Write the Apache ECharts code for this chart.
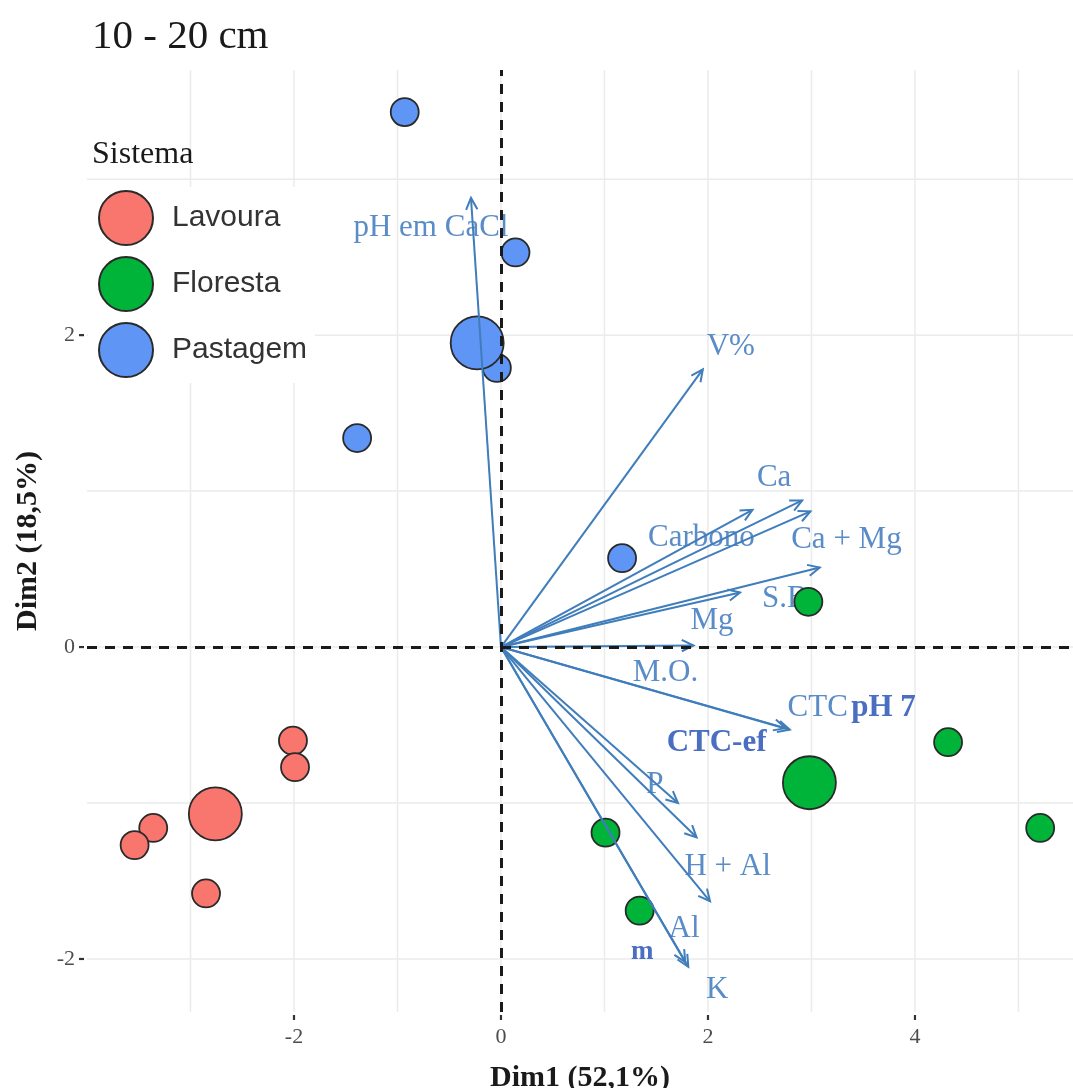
<!DOCTYPE html>
<html><head><meta charset="utf-8">
<script src="https://cdn.jsdelivr.net/npm/echarts@6/dist/echarts.min.js"></script>
<style>html,body{margin:0;padding:0;background:#fff}#c{width:1073px;height:1088px}</style>
</head><body><div id="c"></div>
<script>
// ---------- data ----------
const chartTitle = '10 - 20 cm';
const legendTitle = 'Sistema';
const xName = 'Dim1 (52,1%)';
const yName = 'Dim2 (18,5%)';
const groups = ['Lavoura', 'Floresta', 'Pastagem'];

const lavouraInd = [[-2.01, -0.60], [-1.99, -0.77], [-3.36, -1.16], [-3.54, -1.27], [-2.85, -1.58]];
const lavouraMean = [[-2.76, -1.07]];
const florestaInd = [[2.97, 0.29], [4.32, -0.61], [5.21, -1.16], [1.01, -1.19], [1.34, -1.69]];
const florestaMean = [[2.98, -0.87]];
const pastagemInd = [[-0.93, 3.43], [0.14, 2.53], [-0.04, 1.79], [-1.39, 1.34], [1.17, 0.57]];
const pastagemMean = [[-0.23, 1.95]];

const varNames = ['pH em CaCl', 'V%', 'Carbono', 'Ca', 'Ca + Mg', 'S.B.', 'Mg', 'M.O.', 'CTC pH 7', 'CTC-ef', 'P', 'H + Al', 'Al', 'K', 'm'];
const varX = [-0.29, 1.95, 2.43, 2.91, 2.99, 3.08, 2.31, 1.86, 2.79, 2.75, 1.71, 1.89, 2.02, 1.81, 1.78];
const varY = [2.88, 1.78, 0.88, 0.94, 0.87, 0.51, 0.35, 0.01, -0.53, -0.52, -1.00, -1.22, -1.63, -2.05, -2.02];

const xTickLabels = [-2, 0, 2, 4];
const yTickLabels = [-2, 0, 2];
const xGridValues = [-3, -2, -1, 0, 1, 2, 3, 4, 5];
const yGridValues = [-2, -1, 0, 1, 2, 3];

// ---------- layout / style (not data) ----------
const labelLayout = {
  'pH em CaCl': [-40, 30], 'V%': [28, -23], 'Carbono': [-51, 28], 'Ca': [-28, -23],
  'Ca + Mg': [36, 28], 'S.B.': [-31, 31], 'Mg': [-28, 28], 'M.O.': [-28, 27],
  'CTC pH 7': [62, -22], 'CTC-ef': [-69, 15], 'P': [-23, -18], 'H + Al': [31, 30],
  'Al': [-26, 28], 'K': [29, 23], 'm': [-43, -10]
};
const boldLabels = { 'CTC-ef': true, 'm': true };
const colors = { Lavoura: '#F8766D', Floresta: '#00B43A', Pastagem: '#5F96F6' };
const ARROW = '#3f7dbb';
const LABEL = '#5a8cc8';
const LABEL_BOLD = '#4a6ec2';
const GRID = '#ebebeb';
const SERIF = '"Liberation Serif", "DejaVu Serif", serif';
const SANS = '"Liberation Sans", Arial, sans-serif';

const chart = echarts.init(document.getElementById('c'), null, { renderer: 'canvas' });

function pointSeries(name, ind, mean) {
  const border = { borderColor: '#2a2a2a', borderWidth: 1.8 };
  return [
    { type: 'scatter', name, z: 3, data: ind, symbolSize: 28,
      itemStyle: Object.assign({ color: colors[name], opacity: 1 }, border) },
    { type: 'scatter', name, z: 3, data: mean, symbolSize: 53,
      itemStyle: Object.assign({ color: colors[name], opacity: 1 }, border) }
  ];
}

// vertical gridlines (value in dim 0) + tick mark below axis when labelled
function xGridItem(params, api) {
  const cs = params.coordSys;
  const v = api.value(0);
  const p = api.coord([v, 0]);
  const children = [{ type: 'line', shape: { x1: p[0], y1: cs.y, x2: p[0], y2: cs.y + cs.height },
    style: { stroke: GRID, lineWidth: 1.5 } }];
  if (xTickLabels.indexOf(v) >= 0) {
    children.push({ type: 'line', shape: { x1: p[0], y1: cs.y + cs.height + 3, x2: p[0], y2: cs.y + cs.height + 8 },
      style: { stroke: '#333', lineWidth: 2.2 } });
  }
  return { type: 'group', children };
}
function yGridItem(params, api) {
  const cs = params.coordSys;
  const v = api.value(1);
  const p = api.coord([0, v]);
  const children = [{ type: 'line', shape: { x1: cs.x, y1: p[1], x2: cs.x + cs.width, y2: p[1] },
    style: { stroke: GRID, lineWidth: 1.5 } }];
  if (yTickLabels.indexOf(v) >= 0) {
    children.push({ type: 'line', shape: { x1: cs.x - 8, y1: p[1], x2: cs.x - 3, y2: p[1] },
      style: { stroke: '#333', lineWidth: 2.2 } });
  }
  return { type: 'group', children };
}

function arrowItem(params, api) {
  const o = api.coord([0, 0]);
  const t = api.coord([api.value(0), api.value(1)]);
  const ang = Math.atan2(t[1] - o[1], t[0] - o[0]);
  const L = 13, A = 0.45;
  const p1 = [t[0] - L * Math.cos(ang - A), t[1] - L * Math.sin(ang - A)];
  const p2 = [t[0] - L * Math.cos(ang + A), t[1] - L * Math.sin(ang + A)];
  return { type: 'group', children: [
    { type: 'line', shape: { x1: o[0], y1: o[1], x2: t[0], y2: t[1] }, style: { stroke: ARROW, lineWidth: 2 } },
    { type: 'polyline', shape: { points: [p1, t, p2] }, style: { stroke: ARROW, fill: null, lineWidth: 2 } }
  ] };
}

function labelItem(params, api) {
  const name = varNames[params.dataIndex];
  const t = api.coord([api.value(0), api.value(1)]);
  const off = labelLayout[name] || [0, 0];
  let style;
  if (name === 'CTC pH 7') {
    style = { text: '{a|CTC} {b|pH 7}', align: 'center', verticalAlign: 'middle',
      rich: { a: { fontFamily: SERIF, fontSize: 31, fill: LABEL, color: LABEL },
              b: { fontFamily: SERIF, fontSize: 31, fontWeight: 'bold', fill: LABEL_BOLD, color: LABEL_BOLD } } };
  } else {
    const bold = !!boldLabels[name];
    style = { text: name, align: 'center', verticalAlign: 'middle',
      font: (bold ? 'bold ' : '') + (name === 'm' ? 27 : 31) + 'px ' + SERIF,
      fill: bold ? LABEL_BOLD : LABEL };
  }
  return { type: 'text', x: t[0] + off[0], y: t[1] + off[1], style };
}

const arrowData = varX.map((x, i) => [x, varY[i]]);

const option = {
  animation: false,
  backgroundColor: '#fff',
  grid: { left: 87, right: 0, top: 70, bottom: 76, containLabel: false, outerBoundsMode: 'none' },
  xAxis: {
    type: 'value', min: -4, max: 5.527,
    axisLine: { show: false },
    splitLine: { show: false },
    axisTick: { show: false },
    axisLabel: { customValues: xTickLabels, color: '#4d4d4d', fontFamily: SERIF, fontSize: 22, margin: 14 },
    name: xName, nameLocation: 'middle', nameGap: 51,
    nameTextStyle: { fontFamily: SERIF, fontSize: 30, fontWeight: 'bold', color: '#1a1a1a' }
  },
  yAxis: {
    type: 'value', min: -2.34, max: 3.70,
    axisLine: { show: false },
    splitLine: { show: false },
    axisTick: { show: false },
    axisLabel: { customValues: yTickLabels, color: '#4d4d4d', fontFamily: SERIF, fontSize: 22, margin: 12 },
    name: yName, nameLocation: 'middle', nameGap: 44, nameRotate: 90,
    nameTextStyle: { fontFamily: SERIF, fontSize: 30, fontWeight: 'bold', color: '#1a1a1a' }
  },
  legend: {
    data: groups, orient: 'vertical', left: 88, top: 187,
    itemWidth: 54, itemHeight: 54, itemGap: 10,
    padding: [3, 8, 5, 10], backgroundColor: '#fff', icon: 'circle',
    itemStyle: { borderColor: '#2a2a2a', borderWidth: 2 },
    textStyle: { fontFamily: SANS, fontSize: 30, color: '#333', padding: [0, 0, 0, 14] }
  },
  graphic: [
    { type: 'text', left: 92, top: 17, z: 20, style: { text: chartTitle, font: '41px ' + SERIF, fill: '#1a1a1a' } },
    { type: 'text', left: 92, top: 139, z: 20, style: { text: legendTitle, font: '32px ' + SERIF, fill: '#1a1a1a' } }
  ],
  series: [
    { type: 'custom', name: 'xgrid', z: 0, silent: true, renderItem: xGridItem,
      data: xGridValues.map(v => [v, 0]), clip: false },
    { type: 'custom', name: 'ygrid', z: 0, silent: true, renderItem: yGridItem,
      data: yGridValues.map(v => [0, v]), clip: false },
    { type: 'custom', name: 'labels', z: 1, silent: true, renderItem: labelItem, data: arrowData, clip: false },
    ...pointSeries('Lavoura', lavouraInd, lavouraMean),
    ...pointSeries('Floresta', florestaInd, florestaMean),
    ...pointSeries('Pastagem', pastagemInd, pastagemMean),
    { type: 'custom', name: 'arrows', z: 4, silent: true, renderItem: arrowItem, data: arrowData, clip: false },
    { type: 'scatter', name: 'zero', data: [], z: 5, silent: true,
      markLine: { silent: true, symbol: ['none', 'none'], label: { show: false }, animation: false,
        lineStyle: { color: '#1a1a1a', width: 3, type: [10, 8] },
        data: [{ xAxis: 0 }, { yAxis: 0 }] } }
  ]
};
chart.setOption(option);
</script>
</body></html>
